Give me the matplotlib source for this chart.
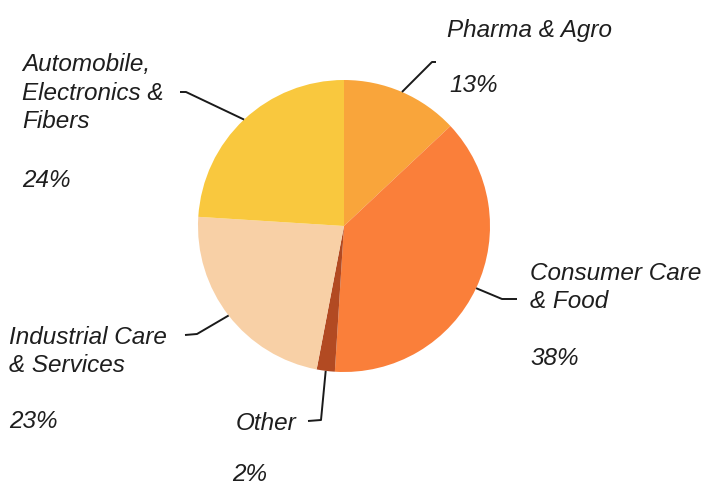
import numpy as np
import matplotlib
matplotlib.use("Agg")
import matplotlib.pyplot as plt

W, H = 706, 487

# Revenue share by segment, clockwise from 12 o'clock
segments = ["Pharma & Agro", "Consumer Care\n& Food", "Other",
            "Industrial Care\n& Services", "Automobile,\nElectronics &\nFibers"]
shares = [13, 38, 2, 23, 24]
colors = ["#F9A53B", "#FA7F3A", "#B24A22", "#F8D0A6", "#F9C83E"]

# label layout in pixel space (x, y from top): name anchor (last line baseline),
# percent anchor, leader elbow + end
name_pos = [(447, 37), (530, 308), (236, 430), (9, 372), (22, 128)]
pct_pos = [(449, 92), (530, 365), (232, 481), (9, 428), (22, 187)]
elbows = [[(432, 62), (436, 62)],
          [(502, 299), (517, 299)],
          [(321, 420), (308, 421)],
          [(197, 334), (185, 335)],
          [(186, 92), (180, 92)]]

CX, CY, R = 344, 226, 146

plt.rcParams["font.family"] = ["Liberation Sans", "DejaVu Sans"]

fig = plt.figure(figsize=(W / 100, H / 100), dpi=100)
ax = fig.add_axes([0, 0, 1, 1])


def fy(y):
    return H - y


wedges, _ = ax.pie(shares, colors=colors, startangle=90, counterclock=False,
                   center=(CX, fy(CY)), radius=R, frame=True,
                   wedgeprops=dict(linewidth=0))
ax.set_xlim(0, W)
ax.set_ylim(0, H)
ax.set_aspect("equal")
ax.axis("off")

for w, name, npos, ppos, el, val in zip(wedges, segments, name_pos, pct_pos, elbows, shares):
    mid = np.deg2rad((w.theta1 + w.theta2) / 2)
    sx = CX + R * np.cos(mid)
    sy = fy(CY) + R * np.sin(mid)
    xs = [sx] + [p[0] for p in el]
    ys = [sy] + [fy(p[1]) for p in el]
    ax.plot(xs, ys, color="#1a1a1a", lw=1.4, solid_capstyle="butt")
    ax.text(npos[0], fy(npos[1]), name, fontsize=17.5, style="italic",
            color="#1e1e1e", ha="left", va="baseline", linespacing=1.3)
    ax.text(ppos[0], fy(ppos[1]), f"{val}%", fontsize=17.5, style="italic",
            color="#1e1e1e", ha="left", va="baseline")

fig.savefig("out.png", dpi=100)
